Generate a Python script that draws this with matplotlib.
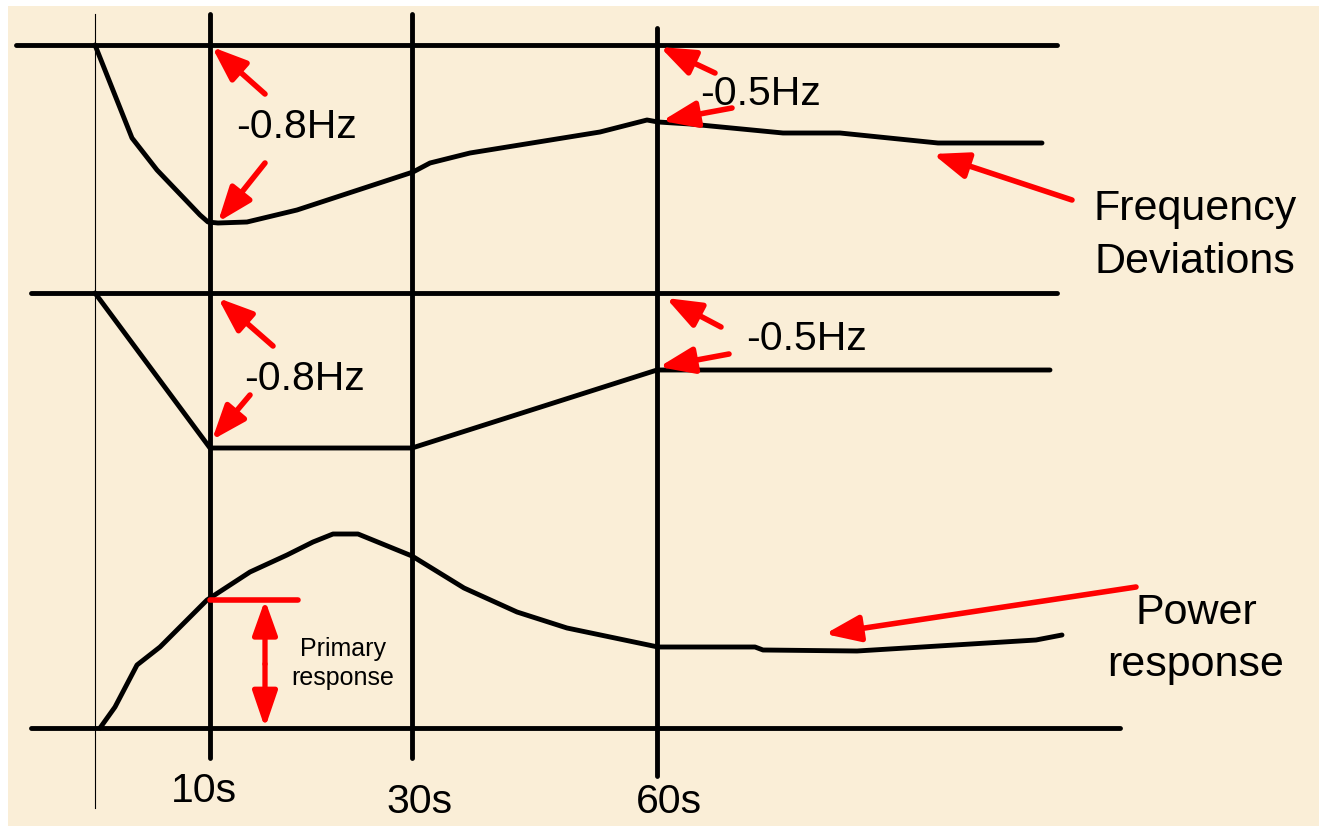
import matplotlib
matplotlib.use("Agg")
import matplotlib.pyplot as plt
from matplotlib.patches import FancyArrowPatch, Rectangle

# ---- diagram data (schematic diagram units, x to the right, y downward) ----
# Frequency deviation, actual response (top panel)
freq_actual_x = [95, 132, 157, 200, 208, 218, 247, 297, 413, 430, 470, 600, 647, 658, 690, 783, 840, 938, 1042]
freq_actual_y = [45, 138, 170, 215, 222, 223, 222, 210, 172, 163, 153, 132, 120, 122, 124, 133, 133, 143, 143]

# Frequency deviation, idealised (middle panel)
freq_ideal_x = [95, 210, 412, 657, 1050]
freq_ideal_y = [293, 448, 448, 370, 370]

# Power response (bottom panel)
power_x = [100, 115, 137, 160, 207, 250, 287, 313, 333, 358, 412, 464, 517, 567, 658, 755, 763, 857, 1036, 1062]
power_y = [728, 707, 665, 647, 600, 572, 555, 542, 534, 534, 556, 588, 612, 628, 647, 647, 650, 651, 640, 635]

# Baselines (y, x_start, x_end)
baseline_y = [45, 293, 728]
baseline_x0 = [16, 31, 31]
baseline_x1 = [1057, 1057, 1120]

# Time markers
tick_positions = [210, 412, 657]
tick_labels = ["10s", "30s", "60s"]
tick_top = [14, 14, 28]
tick_bottom = [758, 758, 776]
tick_label_y = [802, 813, 813]
tick_label_x = [204, 420, 669]
t0_x = 95

# Annotations: (text, x, baseline y)
hz_labels = ["-0.8Hz", "-0.5Hz", "-0.8Hz", "-0.5Hz"]
hz_label_x = [297, 760, 304, 806]
hz_label_y = [138, 105, 390, 350]

# Red arrows: tail -> head
arrow_tail = [(265, 94), (265, 163), (715, 73), (732, 108), (1072, 200),
              (273, 346), (250, 395), (721, 327), (729, 354), (1136, 587)]
arrow_head = [(212, 47), (218, 222), (660, 47), (662, 121), (933, 154),
              (218, 298), (212, 440), (666, 298), (659, 367), (825, 634)]

W, H = 1319, 827
BG = "#FAEED7"

fig = plt.figure(figsize=(W / 100, H / 100), dpi=100)
fig.patch.set_facecolor("white")
ax = fig.add_axes([0, 0, 1, 1])
ax.set_xlim(0, W)
ax.set_ylim(H, 0)
ax.axis("off")

ax.add_patch(Rectangle((8, 6), W - 8, H - 7, facecolor=BG, edgecolor="none", zorder=0))

lw = 3.5
kw = dict(color="black", lw=lw, solid_capstyle="round", solid_joinstyle="round", zorder=2)

# thin t=0 line
ax.plot([t0_x, t0_x], [14, 808], color="black", lw=0.8, zorder=2)

# baselines
for y, x0, x1 in zip(baseline_y, baseline_x0, baseline_x1):
    ax.plot([x0, x1], [y, y], **kw)

# time markers
for x, y0, y1 in zip(tick_positions, tick_top, tick_bottom):
    ax.plot([x, x], [y0, y1], **kw)
for lab, x, y in zip(tick_labels, tick_label_x, tick_label_y):
    ax.text(x, y, lab, ha="center", va="baseline", fontsize=29.5,
            family="Liberation Sans", color="black", zorder=3)

# curves
ax.plot(freq_actual_x, freq_actual_y, **kw)
ax.plot(freq_ideal_x, freq_ideal_y, **kw)
ax.plot(power_x, power_y, **kw)

# Hz labels
for lab, x, y in zip(hz_labels, hz_label_x, hz_label_y):
    ax.text(x, y, lab, ha="center", va="baseline", fontsize=29.5,
            family="Liberation Sans", color="black", zorder=3)

# red arrows
for (tx, ty), (hx, hy) in zip(arrow_tail, arrow_head):
    a = FancyArrowPatch((tx, ty), (hx, hy), arrowstyle="-|>,head_length=21,head_width=8",
                        mutation_scale=1, color="red", lw=4.0, capstyle="round",
                        shrinkA=0, shrinkB=0, zorder=4)
    ax.add_patch(a)

# primary response marker
ax.plot([210, 298], [600, 600], color="red", lw=4.0, solid_capstyle="round", zorder=4)
pa = FancyArrowPatch((265, 664), (265, 600), arrowstyle="-|>,head_length=21,head_width=7.5",
                     mutation_scale=1, color="red", lw=3.8, shrinkA=0, shrinkB=0, zorder=4)
pb = FancyArrowPatch((265, 664), (265, 728), arrowstyle="-|>,head_length=22,head_width=7.5",
                     mutation_scale=1, color="red", lw=3.8, shrinkA=0, shrinkB=0, zorder=4)
ax.add_patch(pa)
ax.add_patch(pb)
ax.text(343, 656, "Primary", ha="center", va="baseline", fontsize=18,
        family="Liberation Sans", zorder=3)
ax.text(343, 685, "response", ha="center", va="baseline", fontsize=18,
        family="Liberation Sans", zorder=3)

# side labels
ax.text(1195, 220, "Frequency", ha="center", va="baseline", fontsize=31,
        family="Liberation Sans", zorder=3)
ax.text(1195, 273, "Deviations", ha="center", va="baseline", fontsize=31,
        family="Liberation Sans", zorder=3)
ax.text(1196, 624, "Power", ha="center", va="baseline", fontsize=31,
        family="Liberation Sans", zorder=3)
ax.text(1196, 676, "response", ha="center", va="baseline", fontsize=31,
        family="Liberation Sans", zorder=3)

fig.savefig("out.png", dpi=100, facecolor="white")
